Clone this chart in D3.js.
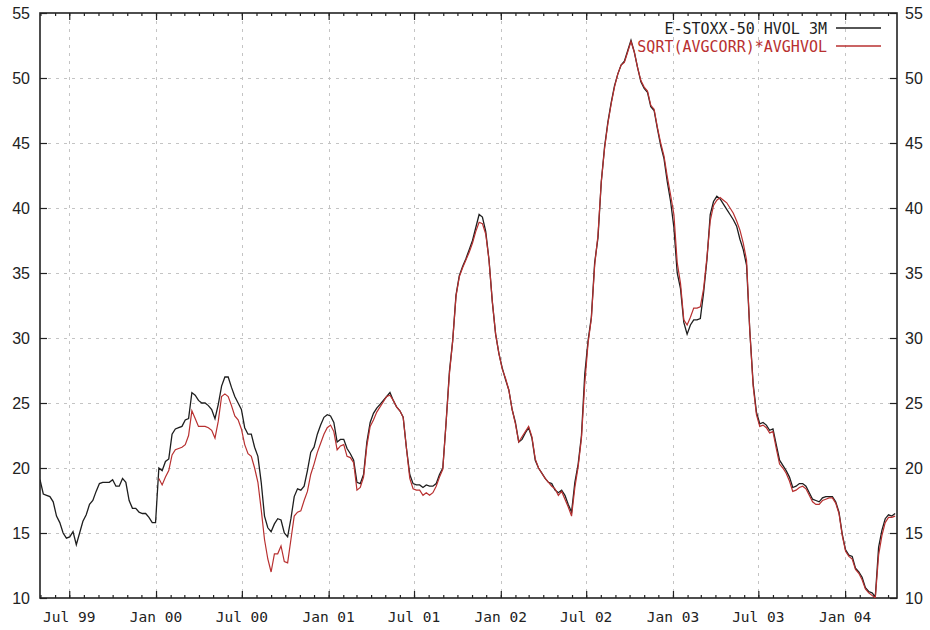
<!DOCTYPE html>
<html>
<head>
<meta charset="utf-8">
<script src="https://cdn.jsdelivr.net/npm/d3@7"></script>
<style>
  body { margin: 0; background: #ffffff; }
</style>
</head>
<body>
<svg id="chart" width="930" height="630"></svg>
<script>
// weekly observations, first one on Fri 30 Apr 1999
var startDate = new Date(Date.UTC(1999, 3, 30));

var hvol1999 = [19.1, 18.0, 17.9, 17.8, 17.4, 16.3, 15.8, 15.0, 14.6, 14.7, 15.1, 14.1, 15.0, 15.9, 16.4, 17.2, 17.5, 18.2,
  18.8, 18.9, 18.9, 18.9, 19.1, 18.6, 18.6, 19.2, 18.9, 17.5, 16.9, 16.9, 16.6, 16.5, 16.5, 16.2, 15.8, 15.8];
var hvol2000 = [20.0, 19.8, 20.5, 20.7, 22.6, 23.0, 23.1, 23.2, 23.7, 23.8, 25.8, 25.6, 25.2, 25.0, 25.0, 24.8, 24.5, 23.8,
  24.9, 26.3, 27.0, 27.0, 26.2, 25.5, 25.0, 24.5, 23.1, 22.6, 22.6, 21.6, 20.9, 18.9, 16.3, 15.4, 15.1, 15.7, 16.1, 16.0,
  15.0, 14.7, 16.1, 17.8, 18.4, 18.3, 18.6, 19.8, 21.2, 21.6, 22.6, 23.3, 23.9, 24.1];
var hvol2001 = [24.0, 23.5, 22.0, 22.2, 22.2, 21.5, 21.1, 20.6, 18.9, 18.8, 19.5, 22.0, 23.5, 24.2, 24.6, 24.9, 25.2, 25.5,
  25.8, 25.2, 24.7, 24.4, 23.9, 21.5, 19.5, 18.8, 18.7, 18.7, 18.5, 18.7, 18.6, 18.6, 18.8, 19.5, 20.0, 23.5, 27.4, 29.8,
  33.3, 34.8, 35.5, 36.1, 36.8, 37.5, 38.5, 39.5, 39.3, 38.2, 36.0, 32.8, 30.3, 28.8];
var hvol2002 = [27.7, 26.8, 26.0, 24.5, 23.5, 22.0, 22.2, 22.7, 23.1, 22.3, 20.6, 20.0, 19.6, 19.2, 18.9, 18.8, 18.3, 18.1,
  18.3, 17.9, 17.2, 16.6, 18.9, 20.3, 22.5, 27.2, 29.8, 31.6, 35.8, 37.7, 42.0, 44.7, 46.6, 48.1, 49.4, 50.3, 51.0, 51.3,
  52.1, 52.9, 52.0, 50.8, 49.7, 49.2, 48.9, 47.8, 47.5, 46.1, 44.8, 43.8, 42.0, 40.5];
var hvol2003 = [38.5, 35.0, 33.8, 31.2, 30.3, 31.0, 31.4, 31.4, 31.5, 33.5, 36.0, 39.5, 40.5, 40.9, 40.7, 40.3, 39.9, 39.5,
  39.1, 38.6, 37.6, 36.8, 35.6, 30.5, 26.5, 24.3, 23.4, 23.5, 23.3, 22.9, 23.0, 21.8, 20.6, 20.2, 19.8, 19.3, 18.5, 18.6,
  18.8, 18.8, 18.6, 18.1, 17.6, 17.5, 17.4, 17.7, 17.8, 17.8, 17.8, 17.4, 16.6, 14.9];
var hvol2004 = [13.7, 13.3, 13.2, 12.3, 12.0, 11.6, 10.8, 10.5, 10.4, 10.1, 13.9, 15.2, 16.1, 16.4, 16.3, 16.5];

// implied series only starts in the first week of 2000
var corrOffset = hvol1999.length;
var corr2000 = [19.2, 18.7, 19.3, 19.8, 21.0, 21.4, 21.5, 21.6, 21.8, 22.5, 24.4, 23.8, 23.2, 23.2, 23.2, 23.1, 22.9, 22.3,
  23.6, 25.5, 25.7, 25.5, 24.8, 24.0, 23.7, 23.0, 21.8, 21.1, 20.9, 20.0, 18.9, 16.8, 14.5, 13.0, 12.0, 13.4, 13.4, 14.0,
  12.8, 12.7, 14.5, 16.3, 16.6, 16.7, 17.5, 18.2, 19.5, 20.3, 21.2, 21.9, 22.6, 23.1];
var corr2001 = [23.3, 22.8, 21.4, 21.7, 21.8, 20.9, 20.8, 20.4, 18.3, 18.5, 19.3, 21.7, 23.2, 23.7, 24.3, 24.7, 25.1, 25.5,
  25.6, 25.2, 24.7, 24.4, 23.9, 21.5, 19.2, 18.4, 18.3, 18.3, 17.9, 18.1, 17.9, 18.1, 18.6, 19.3, 19.9, 23.5, 27.2, 29.8,
  33.2, 34.7, 35.4, 36.0, 36.6, 37.3, 38.2, 38.9, 38.8, 38.0, 36.0, 32.8, 30.3, 28.8];
var corr2002 = [27.6, 26.9, 26.0, 24.5, 23.4, 22.0, 22.4, 22.8, 23.2, 22.4, 20.7, 20.0, 19.6, 19.2, 18.9, 18.6, 18.4, 17.9,
  18.2, 17.6, 17.0, 16.3, 18.5, 20.1, 22.3, 26.5, 29.6, 31.5, 35.6, 37.9, 42.0, 44.6, 46.5, 48.0, 49.3, 50.3, 51.0, 51.2,
  52.0, 52.8, 52.0, 50.8, 49.8, 49.3, 49.0, 47.9, 47.6, 46.2, 45.0, 44.0, 42.4, 41.0];
var corr2003 = [39.5, 35.8, 34.2, 31.4, 31.0, 31.6, 32.3, 32.3, 32.4, 33.8, 36.2, 39.0, 40.2, 40.6, 40.8, 40.6, 40.4, 40.0,
  39.6, 39.0, 38.3, 37.3, 36.0, 30.5, 26.3, 24.1, 23.2, 23.3, 23.1, 22.7, 22.8, 21.5, 20.3, 20.0, 19.6, 19.0, 18.2, 18.3,
  18.5, 18.6, 18.4, 17.9, 17.4, 17.2, 17.2, 17.5, 17.6, 17.7, 17.7, 17.3, 16.5, 14.8];
var corr2004 = [13.6, 13.2, 13.0, 12.2, 11.9, 11.4, 10.7, 10.4, 10.2, 10.0, 13.3, 14.8, 15.8, 16.2, 16.2, 16.3];

var seriesNames = ["E-STOXX-50 HVOL 3M", "SQRT(AVGCORR)*AVGHVOL"];
var seriesColors = ["#1e1e1e", "#b83030"];
var yTickValues = [10, 15, 20, 25, 30, 35, 40, 45, 50, 55];

var margin = { left: 40, right: 897, top: 13, bottom: 598 };

var svg = d3.select("#chart");

var x = d3.scaleUtc()
    .domain([startDate, new Date(Date.UTC(2004, 3, 20))])
    .range([margin.left, margin.right]);

var y = d3.scaleLinear()
    .domain([10, 55])
    .range([margin.bottom, margin.top]);

function weekly(values, offset) {
  return values.map(function (v, i) {
    return { date: d3.utcDay.offset(startDate, (i + offset) * 7), value: v };
  });
}

var hvol = weekly([].concat(hvol1999, hvol2000, hvol2001, hvol2002, hvol2003, hvol2004), 0);
var corr = weekly([].concat(corr2000, corr2001, corr2002, corr2003, corr2004), corrOffset);

var majorTicks = d3.utcMonth.range(new Date(Date.UTC(1999, 6, 1)), new Date(Date.UTC(2004, 1, 1)), 6);
var minorTicks = d3.utcMonth.range(new Date(Date.UTC(1999, 4, 1)), new Date(Date.UTC(2004, 4, 1)));

// grid
var grid = svg.append("g")
    .attr("stroke", "#c4c4c4")
    .attr("stroke-width", 1)
    .attr("stroke-dasharray", "3,5");

grid.selectAll("line.h")
  .data(yTickValues.filter(function (d) { return d > 10 && d < 55; }))
  .enter()
  .append("line")
  .attr("class", "h")
  .attr("x1", margin.left)
  .attr("x2", margin.right)
  .attr("y1", function (d) { return Math.round(y(d)) + 0.5; })
  .attr("y2", function (d) { return Math.round(y(d)) + 0.5; });

grid.selectAll("line.v")
  .data(majorTicks)
  .enter()
  .append("line")
  .attr("class", "v")
  .attr("x1", function (d) { return Math.round(x(d)) + 0.5; })
  .attr("x2", function (d) { return Math.round(x(d)) + 0.5; })
  .attr("y1", margin.top)
  .attr("y2", margin.bottom);

// y axes, left and right, ticks pointing inwards
var yLeft = d3.axisRight(y).tickValues(yTickValues).tickSize(7).tickFormat("");
var yRight = d3.axisLeft(y).tickValues(yTickValues).tickSize(7).tickFormat("");

svg.append("g")
  .attr("transform", "translate(" + margin.left + ",0)")
  .call(yLeft);
svg.append("g")
  .attr("transform", "translate(" + margin.right + ",0)")
  .call(yRight);

svg.append("g")
  .selectAll("text")
  .data(yTickValues)
  .enter()
  .append("text")
  .attr("x", 30)
  .attr("y", function (d) { return y(d) + 6; })
  .attr("text-anchor", "end")
  .style("font-family", "'Liberation Sans', Arial, sans-serif")
  .style("font-size", "16px")
  .style("fill", "#222")
  .text(function (d) { return d; });

svg.append("g")
  .selectAll("text")
  .data(yTickValues)
  .enter()
  .append("text")
  .attr("x", 905)
  .attr("y", function (d) { return y(d) + 6; })
  .attr("text-anchor", "start")
  .style("font-family", "'Liberation Sans', Arial, sans-serif")
  .style("font-size", "16px")
  .style("fill", "#222")
  .text(function (d) { return d; });

// x axes: monthly minor ticks, half-year major ticks, top and bottom
[[d3.axisTop, margin.bottom], [d3.axisBottom, margin.top]].forEach(function (a) {
  svg.append("g")
    .attr("transform", "translate(0," + a[1] + ")")
    .call(a[0](x).tickValues(minorTicks).tickSize(3).tickFormat(""));
  svg.append("g")
    .attr("transform", "translate(0," + a[1] + ")")
    .call(a[0](x).tickValues(majorTicks).tickSize(7).tickFormat(""));
});

svg.selectAll(".domain").remove();
svg.selectAll(".tick line").attr("stroke", "#222").attr("stroke-width", 1.2);

svg.append("g")
  .selectAll("text")
  .data(majorTicks)
  .enter()
  .append("text")
  .attr("x", function (d) { return x(d); })
  .attr("y", 622)
  .attr("text-anchor", "middle")
  .style("font-family", "'DejaVu Sans Mono', monospace")
  .style("font-size", "14.5px")
  .style("fill", "#222")
  .text(function (d) { return d3.utcFormat("%b %y")(d); });

// plot frame
svg.append("rect")
  .attr("x", margin.left)
  .attr("y", margin.top)
  .attr("width", margin.right - margin.left)
  .attr("height", margin.bottom - margin.top)
  .attr("fill", "none")
  .attr("stroke", "#222")
  .attr("stroke-width", 1.6);

svg.append("clipPath")
  .attr("id", "plotArea")
  .append("rect")
  .attr("x", margin.left)
  .attr("y", margin.top)
  .attr("width", margin.right - margin.left)
  .attr("height", margin.bottom - margin.top);

var line = d3.line()
    .x(function (d) { return x(d.date); })
    .y(function (d) { return y(d.value); });

// legend
var legend = svg.append("g");
seriesNames.forEach(function (name, i) {
  var ly = 28 + i * 18;
  legend.append("text")
    .attr("x", 827)
    .attr("y", ly + 6)
    .attr("text-anchor", "end")
    .style("font-family", "'DejaVu Sans Mono', monospace")
    .style("font-size", "15px")
    .style("fill", seriesColors[i])
    .text(name);
  legend.append("line")
    .attr("x1", 836)
    .attr("x2", 881)
    .attr("y1", ly)
    .attr("y2", ly)
    .attr("stroke", seriesColors[i])
    .attr("stroke-width", 1.3);
});

var plot = svg.append("g").attr("clip-path", "url(#plotArea)");

plot.append("path")
  .datum(hvol)
  .attr("d", line)
  .attr("fill", "none")
  .attr("stroke", seriesColors[0])
  .attr("stroke-width", 1.3);

plot.append("path")
  .datum(corr)
  .attr("d", line)
  .attr("fill", "none")
  .attr("stroke", seriesColors[1])
  .attr("stroke-width", 1.2);
</script>
</body>
</html>
